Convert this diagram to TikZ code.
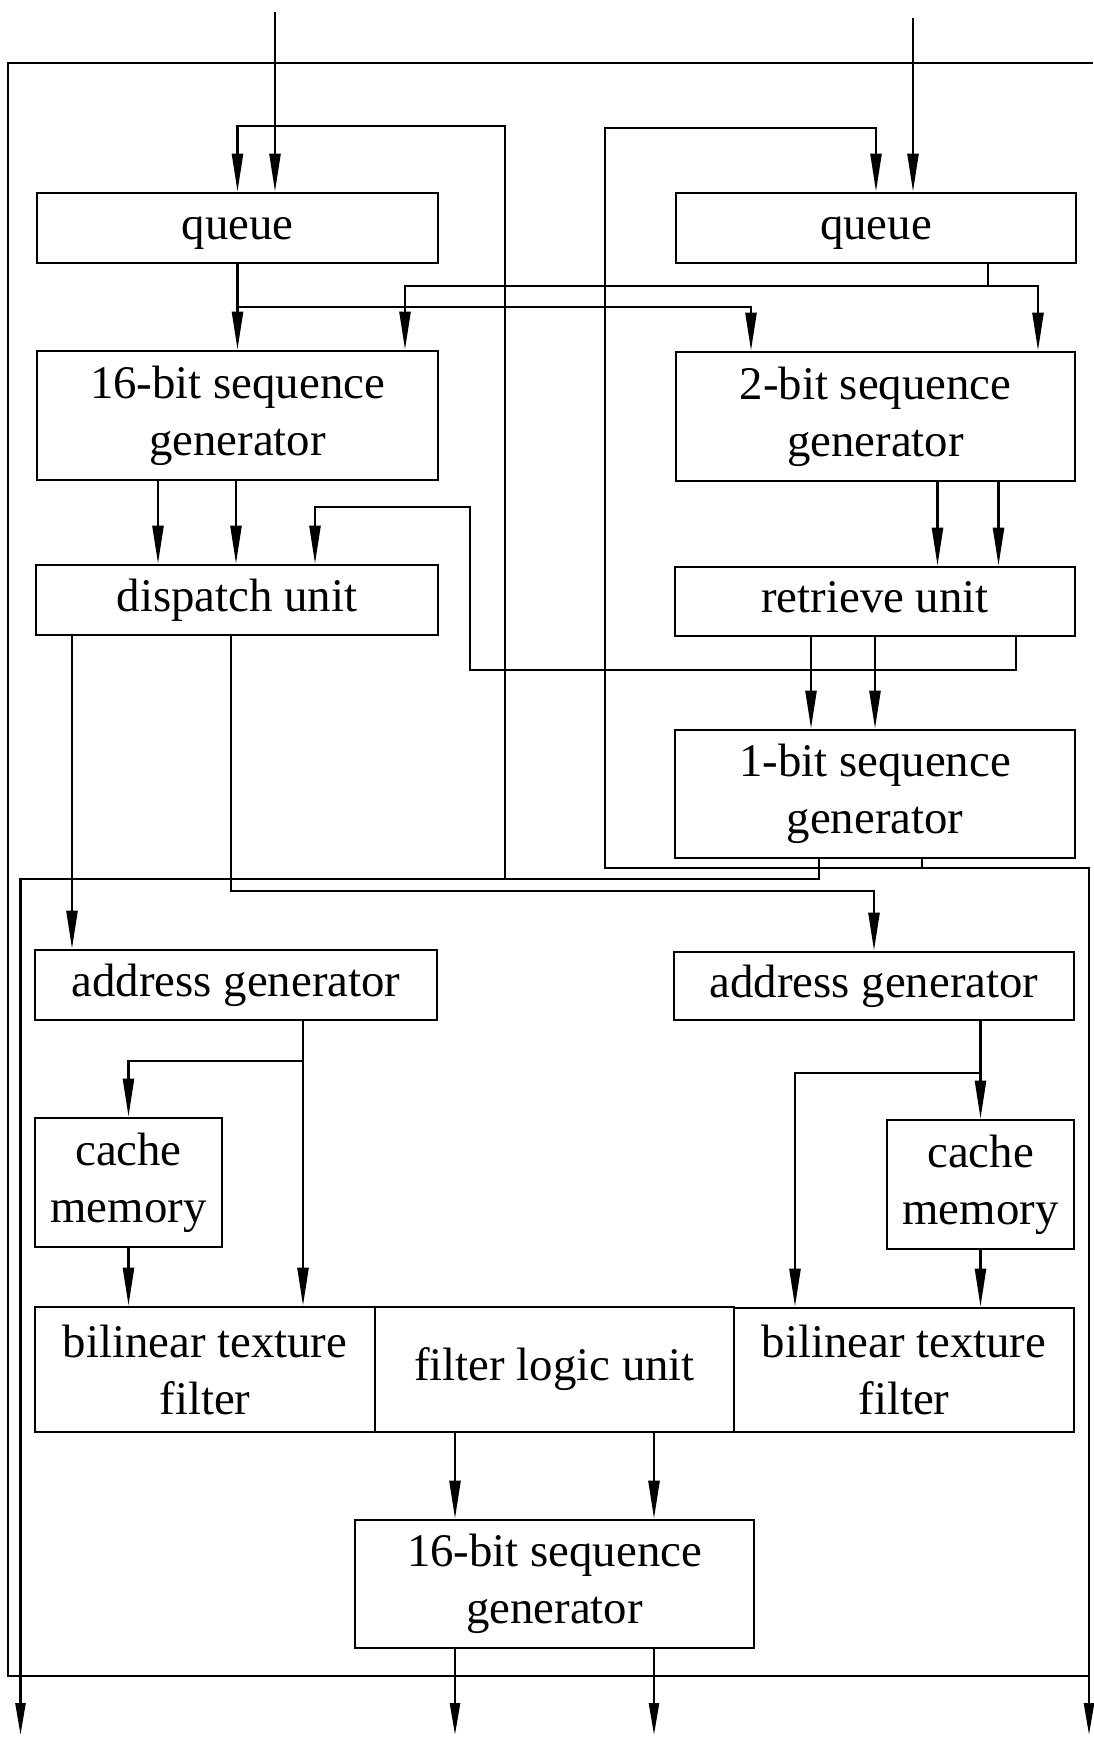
\documentclass[tikz,border=0pt]{standalone}
\usepackage{fontspec}
\setmainfont{Liberation Serif}
\usetikzlibrary{arrows.meta}
\begin{document}
\begin{tikzpicture}[x=1pt,y=-1pt,
  line width=2.4pt,
  blk/.style n args={2}{draw, line width=2.6pt, minimum width=#1, minimum height=#2,
    inner sep=0pt, align=center, font=\fontsize{46.8pt}{57pt}\selectfont},
  one/.style={text height=32pt, text depth=10pt},
  arr/.style={-{Triangle[length=38pt,width=11pt]}},
  outarr/.style={-{Triangle[length=32pt,width=10pt]}}]
\useasboundingbox (0,0) rectangle (1093,1737);

% blocks
\node[blk={401pt}{70pt},one] (qL) at (237.5,228) {queue};
\node[blk={400pt}{70pt},one] (qR) at (876,228) {queue};
\node[blk={401pt}{129pt}] (sL) at (237.5,415.5) {16-bit sequence\\generator};
\node[blk={399pt}{129pt}] (sR) at (875.5,416.5) {2-bit sequence\\generator};
\node[blk={402pt}{70pt},one] (disp) at (237,600) {dispatch unit};
\node[blk={400pt}{69pt},one] (retr) at (875,601.5) {retrieve unit};
\node[blk={400pt}{128pt}] (s1) at (875,794) {1-bit sequence\\generator};
\node[blk={402pt}{70pt},one] (agL) at (236,985) {address generator};
\node[blk={400pt}{68pt},one] (agR) at (874,986) {address generator};
\node[blk={187pt}{129pt}] (cL) at (128.5,1182.5) {cache\\memory};
\node[blk={187pt}{129pt}] (cR) at (980.5,1184.5) {cache\\memory};
\node[blk={340pt}{125pt}] (bL) at (205,1369.5) {bilinear texture\\filter};
\node[blk={359pt}{125pt},one] (fl) at (554.5,1369.5) {filter logic unit};
\node[blk={340pt}{124pt}] (bR) at (904,1370) {bilinear texture\\filter};
\node[blk={399pt}{128pt}] (sB) at (554.5,1584) {16-bit sequence\\generator};

% inputs from above
\coordinate (inL) at (275,12);
\coordinate (inR) at (913,18);
\draw[arr] (inL) -- (inL |- qL.north);
\draw[arr] (inR) -- (inR |- qR.north);

% queue outputs
\draw[arr] (qL.south) -- (sL.north);
\draw[arr] (qL.south |- 0,307) -| (sR.north -| 751,0);
\draw[arr] (qR.south -| 988,0) |- (405,286) -- (sL.north -| 405,0);
\draw[arr] (988,286) -| (sR.north -| 1038,0);

% sequence generators to dispatch and retrieve units
\foreach \x in {158,236} \draw[arr] (sL.south -| \x,0) -- (disp.north -| \x,0);
\foreach \x in {937.5,998.5} \draw[arr] (sR.south -| \x,0) -- (retr.north -| \x,0);
\foreach \x in {811,875} \draw[arr] (retr.south -| \x,0) -- (s1.north -| \x,0);
\draw[arr] (retr.south -| 1016,0) |- (470,670) |- (315,507) -- (disp.north -| 315,0);

% 1-bit generator outputs, with feedback to both queues
\coordinate (outA) at (20.5,1735);
\coordinate (outB) at (455,1735);
\coordinate (outC) at (654,1735);
\coordinate (outD) at (1089,1735);
\draw[outarr] (s1.south -| 819,0) |- (outA |- 0,879) -- (outA);
\draw[arr] (505,879) |- (qL.north |- 0,126) -- (qL.north);
\draw[outarr] (s1.south -| 922,0) |- (outD |- 0,868) -- (outD);
\draw[arr] (s1.south -| 922,0) |- (605,868) |- (qR.north |- 0,128) -- (qR.north);

% dispatch outputs
\draw[arr] (disp.south -| 72,0) -- (agL.north -| 72,0);
\draw[arr] (disp.south -| 231,0) |- (agR.north |- 0,891) -- (agR.north);

% address generators, caches and filters
\draw[arr] (agL.south -| 303,0) -- (bL.north -| 303,0);
\draw[arr] (303,1061) -| (cL.north);
\draw[arr] (cL.south) -- (cL.south |- bL.north);
\draw[arr] (cR.north |- agR.south) -- (cR.north);
\draw[arr] (cR.north |- 0,1073) -| (bR.north -| 795,0);
\draw[arr] (cR.south) -- (cR.south |- bR.north);

% filter logic to the final generator and out
\foreach \x in {455,654} \draw[arr] (fl.south -| \x,0) -- (sB.north -| \x,0);
\draw[outarr] (sB.south -| outB) -- (outB);
\draw[outarr] (sB.south -| outC) -- (outC);

% enclosing line
\draw (1093,63) -- (8,63) -- (8,1676) -- (outD |- 0,1676);
\end{tikzpicture}
\end{document}
